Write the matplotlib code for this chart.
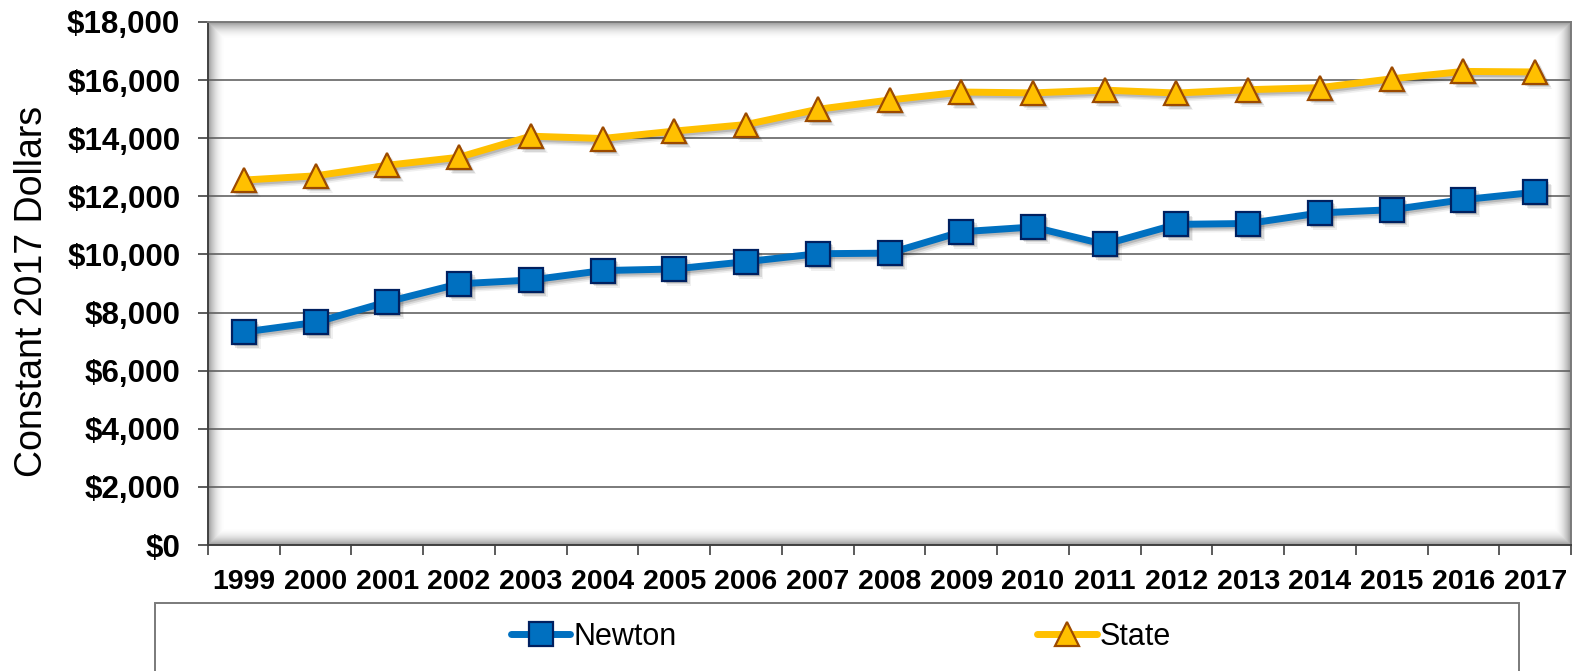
import numpy as np
import matplotlib
matplotlib.use('Agg')
import matplotlib.pyplot as plt
import matplotlib.transforms as mtransforms
from matplotlib.patches import Rectangle
from matplotlib.lines import Line2D

# Data
years = ['1999', '2000', '2001', '2002', '2003', '2004', '2005', '2006', '2007', '2008',
         '2009', '2010', '2011', '2012', '2013', '2014', '2015', '2016', '2017']
newton = [7330, 7660, 8370, 8990, 9120, 9445, 9500, 9750, 10025, 10045,
          10780, 10945, 10345, 11035, 11065, 11430, 11540, 11885, 12140]
state = [12560, 12705, 13070, 13345, 14070, 13990, 14245, 14470, 14995, 15315,
         15590, 15560, 15655, 15555, 15670, 15740, 16045, 16300, 16280]
y_ticks = [0, 2000, 4000, 6000, 8000, 10000, 12000, 14000, 16000, 18000]

plt.rcParams['font.family'] = ['Liberation Sans', 'DejaVu Sans']

W, H = 1575, 671
fig = plt.figure(figsize=(W / 100, H / 100), dpi=100)
ax_l, ax_r, ax_t, ax_b = 208, 1571, 22, 545
ax = fig.add_axes([ax_l / W, 1 - ax_b / H, (ax_r - ax_l) / W, (ax_b - ax_t) / H])

x = np.arange(len(years))
ax.set_xlim(-0.5, len(years) - 0.5)
ax.set_ylim(0, 18000)

# gridlines
ax.set_yticks(y_ticks)
ax.set_yticklabels([f'${v:,.0f}' for v in y_ticks], fontsize=22.5, fontweight='bold')
ax.yaxis.grid(True, color='#7a7a7a', linewidth=1.4, zorder=1)
ax.set_axisbelow(True)

# inner shadow of the plot area
pw, ph = ax_r - ax_l, ax_b - ax_t
xx, yy = np.meshgrid(np.arange(pw), np.arange(ph))
d = np.minimum(np.minimum(xx, pw - 1 - xx), np.minimum(yy, ph - 1 - yy)).astype(float)
alpha = np.clip(1 - d / 17.0, 0, 1) ** 2 * 0.6
shade = np.zeros((ph, pw, 4))
shade[..., :3] = 0.35
shade[..., 3] = alpha
ax.imshow(shade, extent=[0, 1, 0, 1], transform=ax.transAxes, aspect='auto',
          zorder=1.5, interpolation='bilinear')

LW = 5
MS = 17
# soft drop shadows for the series
for off, a in [(2, 0.14), (3.5, 0.10), (5, 0.06)]:
    sh = mtransforms.offset_copy(ax.transData, fig=fig, x=off, y=-off, units='dots')
    ax.plot(x, newton, color='black', alpha=a, linewidth=LW, marker='s', markersize=MS,
            markeredgewidth=0, transform=sh, zorder=2, solid_joinstyle='round')
    ax.plot(x, state, color='black', alpha=a, linewidth=LW, marker='^', markersize=MS,
            markeredgewidth=0, transform=sh, zorder=2, solid_joinstyle='round')

ax.plot(x, newton, color='#0070C0', linewidth=LW, marker='s', markersize=MS,
        markerfacecolor='#0070C0', markeredgecolor='#002060', markeredgewidth=1.6,
        zorder=3, solid_joinstyle='round')
ax.plot(x, state, color='#FFC000', linewidth=LW, marker='^', markersize=MS,
        markerfacecolor='#FFC000', markeredgecolor='#9C4A00', markeredgewidth=1.6,
        zorder=3, solid_joinstyle='round')

# x axis: labels at category centres, ticks at boundaries
ax.set_xticks(x)
ax.set_xticklabels(years, fontsize=20.5, fontweight='bold')
ax.set_xticks(np.arange(len(years) + 1) - 0.5, minor=True)
ax.tick_params(axis='x', which='major', length=0, pad=17)
ax.tick_params(axis='x', which='minor', length=7, width=1.2, color='#404040', direction='out')
ax.tick_params(axis='y', which='major', length=7, width=1.2, color='#404040', pad=13)

for s in ax.spines.values():
    s.set_color('#7a7a7a')
    s.set_linewidth(1.4)
ax.spines['left'].set_color('#404040')
ax.spines['bottom'].set_color('#404040')

fig.text(32 / W, 1 - 291 / H, 'Constant 2017 Dollars', rotation=90, fontsize=27,
         ha='center', va='center')

# legend box (bottom cut off in the reference)
fig.patches.append(Rectangle((155 / W, -0.1), (1519 - 155) / W, (1 - 603 / H) + 0.1,
                             transform=fig.transFigure, facecolor='white',
                             edgecolor='#7a7a7a', linewidth=1.4, zorder=0))
handles = [Line2D([], [], color='#0070C0', linewidth=LW, marker='s', markersize=MS,
                  markerfacecolor='#0070C0', markeredgecolor='#002060', markeredgewidth=1.6,
                  solid_capstyle='round'),
           Line2D([], [], color='#FFC000', linewidth=LW, marker='^', markersize=MS,
                  markerfacecolor='#FFC000', markeredgecolor='#9C4A00', markeredgewidth=1.6,
                  solid_capstyle='round')]
fig.legend(handles, ['Newton', 'State'], loc='center', bbox_to_anchor=(841 / W, 1 - 637 / H),
           ncol=2, frameon=False, fontsize=22, handlelength=1.95, handletextpad=0.1,
           columnspacing=11.8, borderpad=0)

fig.savefig('out.png', dpi=100)
